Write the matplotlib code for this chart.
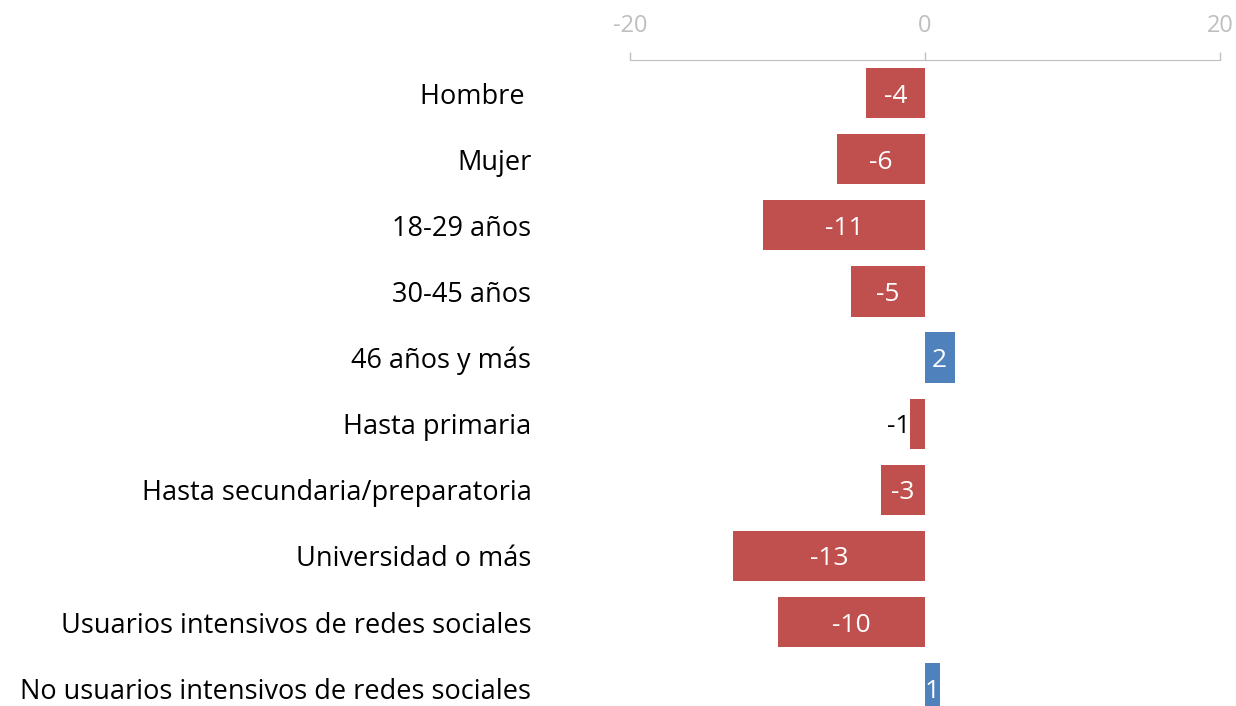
import matplotlib.pyplot as plt

categories = ['Hombre ', 'Mujer', '18-29 años', '30-45 años', '46 años y más',
              'Hasta primaria', 'Hasta secundaria/preparatoria', 'Universidad o más',
              'Usuarios intensivos de redes sociales',
              'No usuarios intensivos de redes sociales']
values = [-4, -6, -11, -5, 2, -1, -3, -13, -10, 1]
xticks = [-20, 0, 20]

plt.rcParams['font.family'] = ['Open Sans', 'DejaVu Sans']

fig = plt.figure(figsize=(12.36, 7.06), dpi=100)
ax = fig.add_axes([630 / 1236, 0, 590 / 1236, 1 - 60 / 706])

colors = ['#C0504D' if v < 0 else '#4F81BD' for v in values]
ypos = list(range(len(categories)))
ax.barh(ypos, values, height=0.76, color=colors)

ax.set_xlim(-20, 20)
ax.set_ylim(9.27, -0.5)

# data labels
for y, v in zip(ypos, values):
    if abs(v) < 1.5 and v < 0:
        ax.text(v, y, str(v), ha='right', va='center_baseline', fontsize=19, color='black')
    else:
        ax.text(v / 2, y, str(v), ha='center', va='center_baseline', fontsize=19, color='white')

ax.xaxis.tick_top()
ax.set_xticks(xticks)
ax.set_xticklabels([str(t) for t in xticks])
ax.tick_params(axis='x', colors='#BFBFBF', labelsize=17, length=6, width=1, pad=10)
ax.set_yticks(ypos)
ax.set_yticklabels(categories)
ax.tick_params(axis='y', length=0, labelsize=19.5, pad=71)

for s in ['left', 'right', 'bottom']:
    ax.spines[s].set_visible(False)
ax.spines['top'].set_color('#BFBFBF')

fig.savefig('out.png', dpi=100)
